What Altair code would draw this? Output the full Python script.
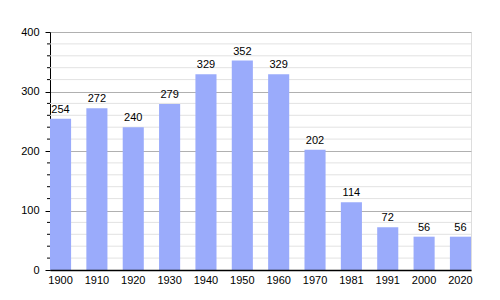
import altair as alt
import pandas as pd

years = ["1900", "1910", "1920", "1930", "1940", "1950", "1960", "1970", "1981", "1991", "2000", "2020"]
population = [254, 272, 240, 279, 329, 352, 329, 202, 114, 72, 56, 56]
minor_ticks = [v for v in range(20, 400, 20) if v % 100 != 0]
major_ticks = [0, 100, 200, 300, 400]

df = pd.DataFrame({"year": years, "pop": population})
minor_df = pd.DataFrame({"pop": minor_ticks})

FONT = "Liberation Sans"
yscale = alt.Scale(domain=[0, 400], nice=False)
xscale = alt.Scale(paddingInner=0.42, paddingOuter=0)

yaxis = alt.Axis(values=major_ticks, grid=True, gridColor="#b0b0b0", tickSize=5,
                 tickColor="black", domainColor="black", labelPadding=6,
                 labelFont=FONT, labelFontSize=11, labelColor="black")

minor_grid = alt.Chart(minor_df).mark_rule(color="#e2e2e2", strokeWidth=1).encode(
    y=alt.Y("pop:Q", scale=yscale, title=None, axis=yaxis),
    x=alt.value(0), x2=alt.value(421),
)
minor_tick = alt.Chart(minor_df).mark_rule(color="black", strokeWidth=1, clip=False).encode(
    y=alt.Y("pop:Q", scale=yscale, title=None, axis=yaxis),
    x=alt.value(-3), x2=alt.value(0),
)

bars = alt.Chart(df).mark_bar(color="#9aabfb").encode(
    x=alt.X("year:N", scale=xscale, sort=years, title=None,
            axis=alt.Axis(labelAngle=0, tickSize=0, labelPadding=4, domainColor="black",
                          domainWidth=1.5, labelFont=FONT, labelFontSize=11,
                          labelColor="black", grid=False, zindex=1)),
    y=alt.Y("pop:Q", scale=yscale, title=None, axis=yaxis),
)

labels = alt.Chart(df).mark_text(font=FONT, fontSize=11, color="black", baseline="bottom", dy=-4).encode(
    x=alt.X("year:N", scale=xscale, sort=years),
    y=alt.Y("pop:Q", scale=yscale, title=None, axis=yaxis),
    text="pop:Q",
)

chart = alt.layer(minor_grid, minor_tick, bars, labels).properties(
    width=421, height=238,
    autosize=alt.AutoSizeParams(type="none"),
    padding={"left": 50, "top": 32, "right": 29, "bottom": 30},
).configure_view(stroke=None).configure(background="white")

chart.save("out.html", embed_options={"renderer": "svg", "actions": False})
